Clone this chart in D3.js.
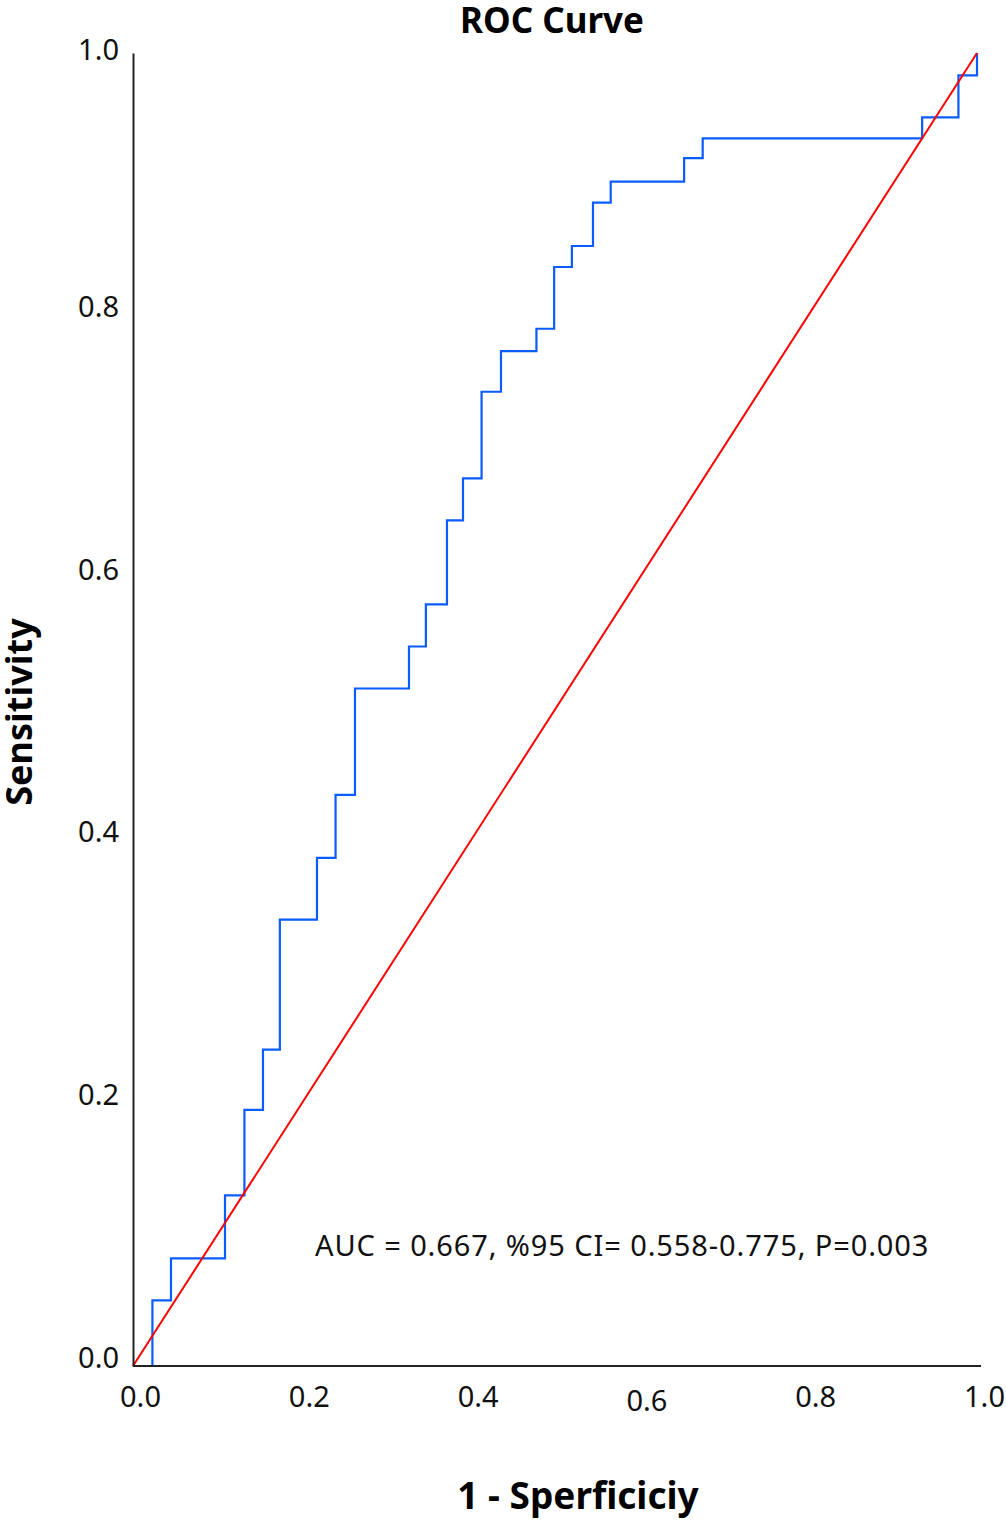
<!DOCTYPE html>
<html>
<head>
<meta charset="utf-8">
<script src="https://cdn.jsdelivr.net/npm/d3@7"></script>
<style>
  body { margin: 0; background: #fff; }
  text { font-family: "Noto Sans", "Open Sans", sans-serif; }
</style>
</head>
<body>
<div id="roc"></div>
<script>
// ROC points (1 - specificity, sensitivity)
var fpr = [0, 0.023, 0.045, 0.109, 0.132, 0.154, 0.174, 0.218, 0.240, 0.263, 0.327, 0.347,
           0.372, 0.391, 0.413, 0.436, 0.478, 0.499, 0.520, 0.545, 0.566, 0.653, 0.675,
           0.935, 0.978, 1.0];
var tpr = [0, 0.050, 0.082, 0.130, 0.195, 0.241, 0.340, 0.387, 0.435, 0.516, 0.548, 0.580,
           0.644, 0.676, 0.742, 0.773, 0.790, 0.837, 0.853, 0.886, 0.902, 0.920, 0.935,
           0.951, 0.983, 1.0];
var refLine = [[0, 0], [1, 1]];
var xTicks = [0, 0.2, 0.4, 0.6, 0.8, 1.0];
var yTicks = [0, 0.2, 0.4, 0.6, 0.8, 1.0];
var aucText = "AUC = 0.667, %95 CI= 0.558-0.775, P=0.003";

function init(){
    var W = 1006, H = 1520;
    var left = 133, top = 53;
    var w = 844, h = 1313;

    var svg = d3.select("#roc")
                .append("svg")
                .attr("width", W)
                .attr("height", H);

    var xscale = d3.scaleLinear().domain([0, 1]).range([left, left + w]);
    var yscale = d3.scaleLinear().domain([0, 1]).range([top + h, top]);

    var points = fpr.map(function(d, i) { return [d, tpr[i]]; });

    var line = d3.line()
                .x(function(d) { return xscale(d[0]); })
                .y(function(d) { return yscale(d[1]); });

    svg.append("path")
        .datum(points)
        .attr("d", line.curve(d3.curveStepAfter))
        .attr("fill", "none")
        .attr("stroke", "#0a5cff")
        .attr("stroke-width", 2.2);

    svg.append("path")
        .datum(refLine)
        .attr("d", d3.line()
                .x(function(d) { return xscale(d[0]); })
                .y(function(d) { return yscale(d[1]); }))
        .attr("fill", "none")
        .attr("stroke", "#ff0000")
        .attr("stroke-width", 2);

    // axes
    var xAxis = d3.axisBottom(xscale)
                    .tickValues(xTicks)
                    .tickSize(0)
                    .tickFormat(d3.format(".1f"));
    var yAxis = d3.axisLeft(yscale)
                    .tickValues(yTicks)
                    .tickSize(0)
                    .tickFormat(d3.format(".1f"));

    var gx = svg.append("g")
        .attr("transform", "translate(0," + (top + h) + ")")
        .call(xAxis);
    gx.select(".domain")
        .attr("d", "M" + left + ",0H" + (left + w + 4))
        .attr("stroke", "#222")
        .attr("stroke-width", 2);
    gx.selectAll("text")
        .attr("x", 7)
        .attr("y", 41)
        .attr("dy", 0)
        .attr("fill", "#111")
        .style("font-size", "29px");
    gx.selectAll("text")
        .filter(function(d) { return d === 0.6; })
        .attr("y", 45);

    var gy = svg.append("g")
        .attr("transform", "translate(" + left + ",0)")
        .call(yAxis);
    gy.select(".domain")
        .attr("stroke", "#222")
        .attr("stroke-width", 2);
    gy.selectAll("text")
        .attr("x", -14)
        .attr("y", 1)
        .attr("dy", 0)
        .attr("fill", "#111")
        .style("font-size", "29px");
    gy.selectAll("text")
        .filter(function(d) { return d === 1; })
        .attr("y", 6);

    svg.append("text")
        .attr("x", 552)
        .attr("y", 33)
        .attr("text-anchor", "middle")
        .style("font-size", "35px")
        .style("font-weight", "bold")
        .text("ROC Curve");

    svg.append("text")
        .attr("x", 578)
        .attr("y", 1509)
        .attr("text-anchor", "middle")
        .style("font-size", "37px")
        .style("font-weight", "bold")
        .text("1 - Sperficiciy");

    svg.append("text")
        .attr("transform", "translate(32,712) rotate(-90)")
        .attr("text-anchor", "middle")
        .style("font-size", "36px")
        .style("font-weight", "bold")
        .text("Sensitivity");

    svg.append("text")
        .attr("x", 315)
        .attr("y", 1256)
        .style("font-size", "29px")
        .style("letter-spacing", "0.9px")
        .attr("fill", "#111")
        .text(aucText);
}
window.onload = init;
</script>
</body>
</html>
